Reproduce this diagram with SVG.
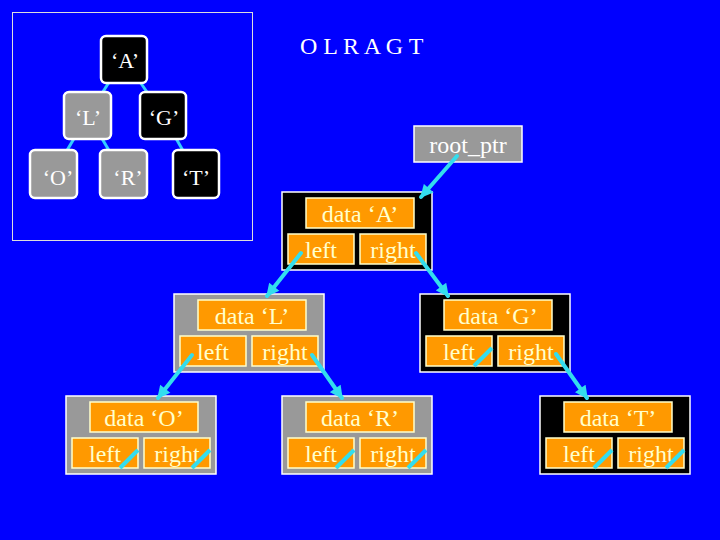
<svg xmlns="http://www.w3.org/2000/svg" width="720" height="540" viewBox="0 0 720 540">
<defs>
<style>
.t{font-family:"Liberation Serif","Times New Roman",serif;font-size:24px;fill:#FFFFCC;text-anchor:middle}
.w{font-family:"Liberation Serif","Times New Roman",serif;font-size:22px;fill:#FFFFFF;text-anchor:middle}
.gray{fill:#999999;stroke:#FFFFFF;stroke-width:1.5}
.blk{fill:#000000;stroke:#FFFFFF;stroke-width:1.5}
.or{fill:#FF9900;stroke:#FFFFCC;stroke-width:1.5}
.sb{stroke:#FFFFFF;stroke-width:2.5}
.arr{stroke:#33DDEE;stroke-width:4;fill:none;stroke-linecap:round}
.nul{stroke:#33DDEE;stroke-width:4;fill:none}
.il{stroke:#33CCFF;stroke-width:3;fill:none}
</style>
<marker id="ah" viewBox="0 0 10 10" refX="9" refY="5" markerWidth="14" markerHeight="13" markerUnits="userSpaceOnUse" orient="auto">
<path d="M0,0 L10,5 L0,10 z" fill="#33DDEE"/>
</marker>
</defs>
<rect width="720" height="540" fill="#0000FF"/>

<!-- inset tree -->
<g id="inset">
<rect x="12.5" y="12.5" width="240" height="228" fill="none" stroke="#DDDDDD" stroke-width="1"/>
<g id="inset-edges">
<line class="il" x1="124" y1="59" x2="88" y2="115"/>
<line class="il" x1="124" y1="59" x2="163" y2="115"/>
<line class="il" x1="88" y1="115" x2="53" y2="174"/>
<line class="il" x1="88" y1="115" x2="123" y2="174"/>
<line class="il" x1="163" y1="115" x2="196" y2="174"/>
</g>
<g id="iA"><rect class="blk sb" x="101" y="36" width="46" height="47" rx="5"/><text class="w" x="125" y="68">‘A’</text></g>
<g id="iL"><rect class="gray sb" x="64" y="92" width="47" height="47" rx="5"/><text class="w" x="88" y="125">‘L’</text></g>
<g id="iG"><rect class="blk sb" x="140" y="92" width="46" height="47" rx="5"/><text class="w" x="164" y="125">‘G’</text></g>
<g id="iO"><rect class="gray sb" x="30" y="150" width="47" height="48" rx="5"/><text class="w" x="58" y="185">‘O’</text></g>
<g id="iR"><rect class="gray sb" x="100" y="150" width="47" height="48" rx="5"/><text class="w" x="128" y="185">‘R’</text></g>
<g id="iT"><rect class="blk sb" x="173" y="150" width="46" height="48" rx="5"/><text class="w" x="196" y="185">‘T’</text></g>
</g>

<text id="title" x="300" y="53.5" font-family="Liberation Serif,Times New Roman,serif" font-size="24" fill="#FFFFFF">O L R A G T</text>

<g id="root_ptr">
<rect class="gray" x="414" y="126" width="108" height="36"/>
<text class="t" x="468" y="153" fill="#FFFFFF" style="fill:#FFFFFF">root_ptr</text>
</g>

<g id="nodeA">
<rect class="blk" x="282" y="192" width="150" height="78"/>
<rect class="or" x="306" y="198" width="108" height="30"/><text class="t" x="360" y="221.5">data ‘A’</text>
<rect class="or" x="288" y="234" width="66" height="30"/><text class="t" x="321" y="257.5">left</text>
<rect class="or" x="360" y="234" width="66" height="30"/><text class="t" x="393" y="257.5">right</text>
</g>
<g id="nodeL">
<rect class="gray" x="174" y="294" width="150" height="78"/>
<rect class="or" x="198" y="300" width="108" height="30"/><text class="t" x="252" y="323.5">data ‘L’</text>
<rect class="or" x="180" y="336" width="66" height="30"/><text class="t" x="213" y="359.5">left</text>
<rect class="or" x="252" y="336" width="66" height="30"/><text class="t" x="285" y="359.5">right</text>
</g>
<g id="nodeG">
<rect class="blk" x="420" y="294" width="150" height="78"/>
<rect class="or" x="444" y="300" width="108" height="30"/><text class="t" x="498" y="323.5">data ‘G’</text>
<rect class="or" x="426" y="336" width="66" height="30"/><text class="t" x="459" y="359.5">left</text>
<rect class="or" x="498" y="336" width="66" height="30"/><text class="t" x="531" y="359.5">right</text>
</g>
<g id="nodeO">
<rect class="gray" x="66" y="396" width="150" height="78"/>
<rect class="or" x="90" y="402" width="108" height="30"/><text class="t" x="144" y="425.5">data ‘O’</text>
<rect class="or" x="72" y="438" width="66" height="30"/><text class="t" x="105" y="461.5">left</text>
<rect class="or" x="144" y="438" width="66" height="30"/><text class="t" x="177" y="461.5">right</text>
</g>
<g id="nodeR">
<rect class="gray" x="282" y="396" width="150" height="78"/>
<rect class="or" x="306" y="402" width="108" height="30"/><text class="t" x="360" y="425.5">data ‘R’</text>
<rect class="or" x="288" y="438" width="66" height="30"/><text class="t" x="321" y="461.5">left</text>
<rect class="or" x="360" y="438" width="66" height="30"/><text class="t" x="393" y="461.5">right</text>
</g>
<g id="nodeT">
<rect class="blk" x="540" y="396" width="150" height="78"/>
<rect class="or" x="564" y="402" width="108" height="30"/><text class="t" x="618" y="425.5">data ‘T’</text>
<rect class="or" x="546" y="438" width="66" height="30"/><text class="t" x="579" y="461.5">left</text>
<rect class="or" x="618" y="438" width="66" height="30"/><text class="t" x="651" y="461.5">right</text>
</g>

<g id="connectors">
<line class="arr" x1="457" y1="156" x2="421" y2="197" marker-end="url(#ah)"/>
<line class="arr" x1="301" y1="253" x2="267" y2="296" marker-end="url(#ah)"/>
<line class="arr" x1="416" y1="253" x2="448" y2="296" marker-end="url(#ah)"/>
<line class="arr" x1="192" y1="355" x2="158" y2="398" marker-end="url(#ah)"/>
<line class="arr" x1="312" y1="355" x2="342" y2="398" marker-end="url(#ah)"/>
<line class="arr" x1="556" y1="354" x2="587" y2="398" marker-end="url(#ah)"/>
<line class="nul" x1="492" y1="348" x2="474" y2="366"/>
<line class="nul" x1="138" y1="450" x2="120" y2="468"/>
<line class="nul" x1="210" y1="450" x2="192" y2="468"/>
<line class="nul" x1="354" y1="450" x2="336" y2="468"/>
<line class="nul" x1="426" y1="450" x2="408" y2="468"/>
<line class="nul" x1="612" y1="450" x2="594" y2="468"/>
<line class="nul" x1="684" y1="450" x2="666" y2="468"/>
</g>
</svg>
